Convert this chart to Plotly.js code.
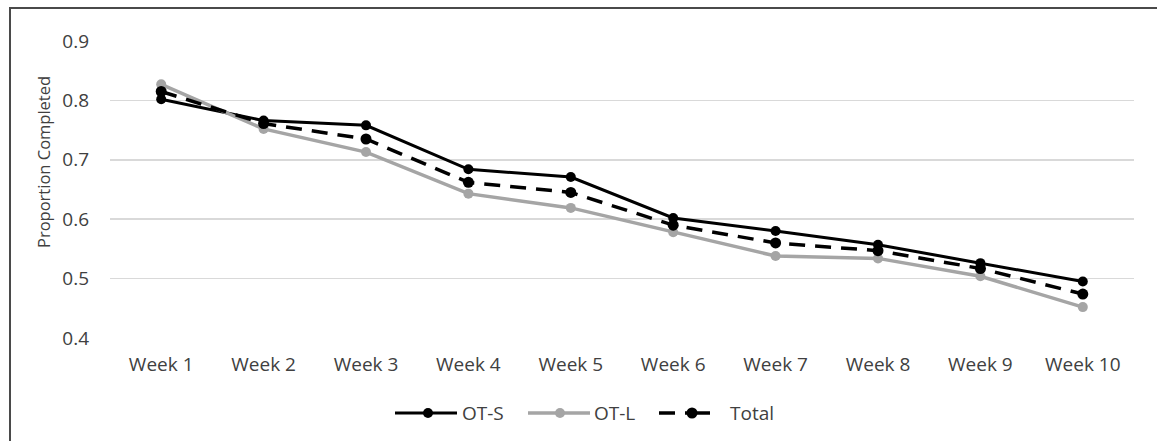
<!DOCTYPE html>
<html>
<head>
<meta charset="utf-8">
<script src="https://cdn.plot.ly/plotly-3.0.1.min.js"></script>
<style>
  html, body { margin: 0; padding: 0; background: #fff; }
  #wrap { position: relative; width: 1157px; height: 441px; overflow: hidden; }
  #chart { position: absolute; left: 0; top: 0; width: 1157px; height: 441px; }
  #frame { position: absolute; left: 9px; top: 7px; width: 1200px; height: 500px;
           border-top: 2px solid #4a4a4a; border-left: 2px solid #4a4a4a; pointer-events: none; }
</style>
</head>
<body>
<div id="wrap">
  <div id="chart"></div>
  <div id="frame"></div>
</div>
<script>
const weeks = ["Week 1","Week 2","Week 3","Week 4","Week 5","Week 6","Week 7","Week 8","Week 9","Week 10"];
const otS   = [0.802, 0.766, 0.758, 0.684, 0.671, 0.602, 0.580, 0.557, 0.526, 0.495];
const otL   = [0.827, 0.752, 0.713, 0.643, 0.619, 0.578, 0.538, 0.534, 0.504, 0.452];
const total = [0.815, 0.761, 0.735, 0.662, 0.645, 0.590, 0.560, 0.547, 0.517, 0.474];
const yTicks = [0.4, 0.5, 0.6, 0.7, 0.8, 0.9];
const seriesNames = ["OT-S", "OT-L", "Total"];

const FONT = "Open Sans, Noto Sans, sans-serif";
const TXT = "#404040";
const BLACK = "#000000", GREY = "#a5a5a5";

// plot area in pixels
const L = 110, R = 23, T = 41, B = 103, W = 1157, H = 441;
const PW = W - L - R, PH = H - T - B;
const px = x => (x - L) / PW;        // pixel x -> paper
const py = y => (H - B - y) / PH;    // pixel y -> paper

const traces = [
  { name: seriesNames[0], x: weeks, y: otS, type: "scatter", mode: "lines+markers",
    line: { color: BLACK, width: 3 }, marker: { color: BLACK, size: 10 } },
  { name: seriesNames[1], x: weeks, y: otL, type: "scatter", mode: "lines+markers",
    line: { color: GREY, width: 3.5 }, marker: { color: GREY, size: 10 } },
  { name: seriesNames[2], x: weeks, y: total, type: "scatter", mode: "lines+markers",
    line: { color: BLACK, width: 3.5, dash: "16px,10px" }, marker: { color: BLACK, size: 11 } }
];

// custom legend (Excel-style long symbols)
const LY = 413;
function seg(x0, x1, color, w) {
  return { type: "line", xref: "paper", yref: "paper", x0: px(x0), x1: px(x1), y0: py(LY), y1: py(LY),
           line: { color: color, width: w } };
}
function dot(x, color, d) {
  return { type: "circle", xref: "paper", yref: "paper", xsizemode: "pixel", ysizemode: "pixel",
           xanchor: px(x), yanchor: py(LY), x0: -d/2, x1: d/2, y0: -d/2, y1: d/2,
           fillcolor: color, line: { color: color, width: 0 } };
}
const shapes = [
  seg(395, 457, BLACK, 3), dot(428, BLACK, 10),
  seg(528, 590, GREY, 3.5), dot(560, GREY, 10),
  seg(659, 675, BLACK, 3.5), seg(685, 710, BLACK, 3.5), dot(692, BLACK, 11)
];
const legendText = [[460, seriesNames[0]], [592, seriesNames[1]], [728, seriesNames[2]]];

const annotations = [
  { text: "Proportion Completed", xref: "paper", yref: "paper", x: px(43), y: py(162),
    xanchor: "center", yanchor: "middle", textangle: -90, showarrow: false,
    font: { family: FONT, size: 16.5, color: TXT } }
].concat(legendText.map(([x, t]) => ({
    text: t, xref: "paper", yref: "paper", x: px(x), y: py(LY), xanchor: "left", yanchor: "middle",
    showarrow: false, font: { family: FONT, size: 19, color: TXT } })));

const layout = {
  width: W, height: H,
  margin: { l: L, r: R, t: T, b: B },
  paper_bgcolor: "#ffffff", plot_bgcolor: "#ffffff",
  font: { family: FONT, size: 19, color: TXT },
  showlegend: false,
  xaxis: { type: "category", range: [-0.5, 9.5], showgrid: false, zeroline: false, showline: false,
           ticks: "", ticklabelstandoff: 13, tickfont: { family: FONT, size: 19, color: TXT } },
  yaxis: { range: [0.4, 0.9], tickvals: yTicks, ticktext: yTicks.map(v => v.toFixed(1)),
           showgrid: true, gridcolor: "#d9d9d9", gridwidth: 1.5, zeroline: false, showline: false,
           ticks: "", ticklabelstandoff: 20, tickfont: { family: FONT, size: 19, color: TXT } },
  shapes: shapes,
  annotations: annotations
};

Plotly.newPlot("chart", traces, layout, { displayModeBar: false, staticPlot: true });
</script>
</body>
</html>
